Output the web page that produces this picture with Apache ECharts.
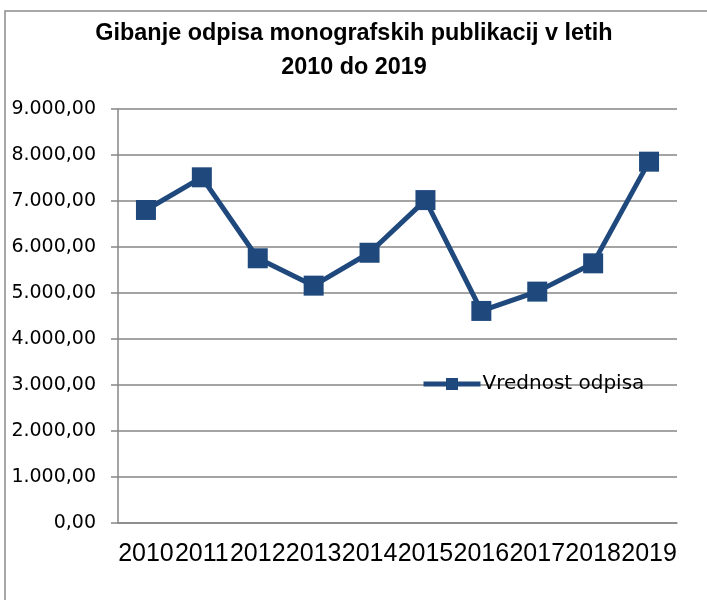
<!DOCTYPE html>
<html>
<head>
<meta charset="utf-8">
<script src="https://cdn.jsdelivr.net/npm/echarts@6/dist/echarts.min.js"></script>
<style>
  html, body { margin: 0; padding: 0; background: #fff; }
  #chart { width: 707px; height: 600px; }
</style>
</head>
<body>
<div id="chart"></div>
<script>
// podatki
const years = ["2010", "2011", "2012", "2013", "2014", "2015", "2016", "2017", "2018", "2019"]
const writeOffValues = [6805, 7515, 5755, 5160, 5875, 7020, 4610, 5030, 5645, 7855]
const seriesName = "Vrednost odpisa"
const titleText = "Gibanje odpisa monografskih publikacij v letih\n2010 do 2019"

const axisColor = "#868686"
const lineColor = "#1F497D"

// 9000 -> "9.000,00"
const formatValue = v => {
	const [intPart, dec] = v.toFixed(2).split(".")
	return intPart.replace(/\B(?=(\d{3})+(?!\d))/g, ".") + "," + dec
}

const chart = echarts.init(document.getElementById("chart"))
chart.setOption({
	animation: false,
	graphic: [
		{
			type: "rect",
			shape: { x: 5, y: 11, width: 720, height: 620 },
			style: { fill: "none", stroke: "#8c8c8c", lineWidth: 1.5 },
			silent: true,
		},
	],
	title: {
		text: titleText,
		left: 349,
		textAlign: "center",
		top: 12,
		textStyle: {
			fontFamily: "Liberation Sans",
			fontWeight: "bold",
			fontSize: 23.4,
			lineHeight: 34,
			color: "#000",
		},
	},
	legend: {
		data: [seriesName],
		left: 421,
		top: 374,
		padding: 0,
		itemWidth: 57,
		itemHeight: 15,
		lineStyle: { width: 5 },
		textStyle: {
			fontFamily: "DejaVu Sans",
			fontSize: 20,
			color: "#000",
			padding: [0, 0, 0, -3],
		},
	},
	grid: {
		left: 118,
		right: 30,
		top: 109,
		bottom: 77,
	},
	xAxis: {
		type: "category",
		data: years,
		boundaryGap: true,
		axisLine: { lineStyle: { color: axisColor, width: 1.5 } },
		axisTick: { length: 9, lineStyle: { color: axisColor, width: 1.5 } },
		axisLabel: {
			margin: 19,
			color: "#000",
			fontFamily: "Liberation Sans",
			fontSize: 25,
			interval: 0,
		},
	},
	yAxis: {
		type: "value",
		min: 0,
		max: 9000,
		interval: 1000,
		axisLine: { show: true, lineStyle: { color: axisColor, width: 1.5 } },
		axisTick: { show: true, length: 7, lineStyle: { color: axisColor, width: 1.5 } },
		splitLine: { lineStyle: { color: axisColor, width: 1.5 } },
		axisLabel: {
			margin: 22,
			color: "#000",
			fontFamily: "DejaVu Sans",
			fontSize: 19,
			formatter: formatValue,
		},
	},
	series: [
		{
			name: seriesName,
			type: "line",
			data: writeOffValues,
			symbol: "rect",
			symbolSize: 20,
			lineStyle: { color: lineColor, width: 5 },
			itemStyle: { color: lineColor },
		},
	],
})
</script>
</body>
</html>
